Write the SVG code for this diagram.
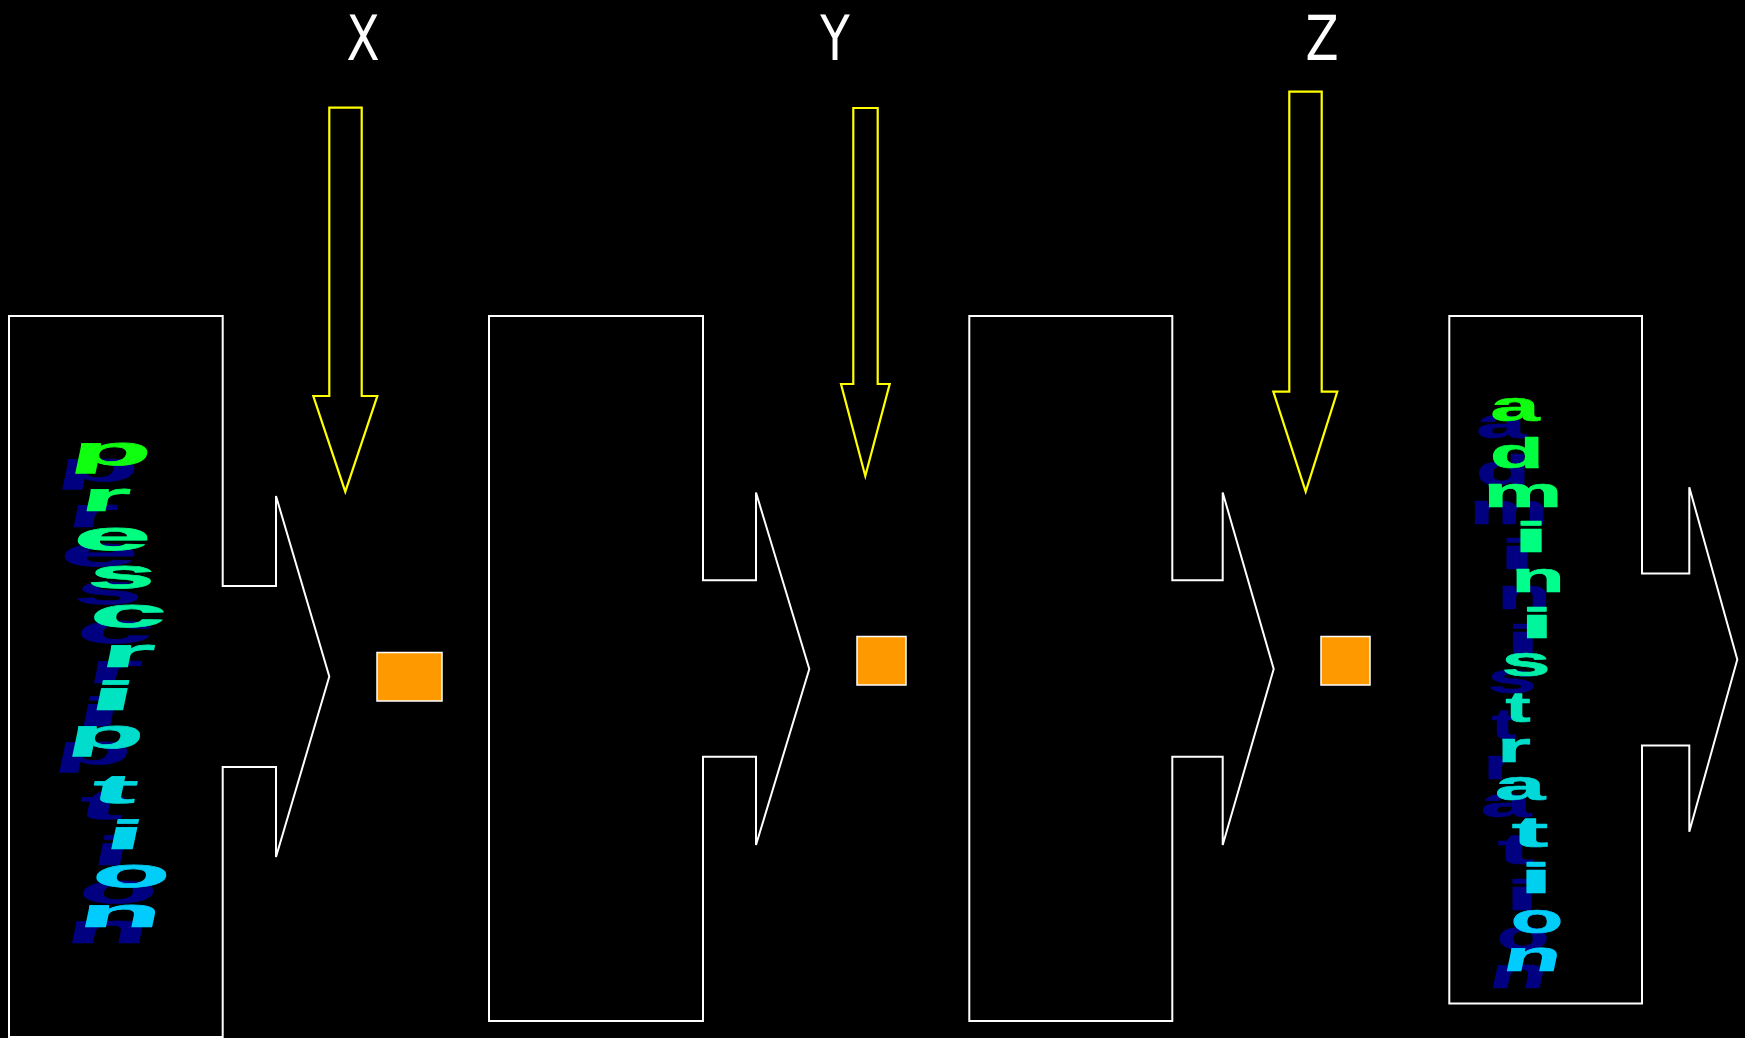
<svg xmlns="http://www.w3.org/2000/svg" width="1745" height="1038" viewBox="0 0 1745 1038">
<defs>
<style>
.stage{fill:none;stroke:#FFFFFF;stroke-width:2;stroke-linejoin:miter}
.block{fill:none;stroke:#FFFF00;stroke-width:2.2}
.box{fill:#FF9900;stroke:#FFFFFF;stroke-width:1.5}
.lbl{fill:#FFFFFF;font-family:"DejaVu Sans",sans-serif;font-size:62px;text-anchor:middle}
.wa text{font-family:"Liberation Sans",Arial,sans-serif;font-weight:bold;text-anchor:middle;fill:currentColor;stroke:currentColor;stroke-width:0.7;stroke-linejoin:round}
.p text{font-size:41px}
.a text{font-size:43px}
.sh{color:#000080}
</style>
</defs>
<rect x="0" y="0" width="1745" height="1038" fill="#000000"/>

<g id="labels">
<text class="lbl" transform="translate(363,60) scale(0.78,1)">X</text>
<text class="lbl" transform="translate(835,60) scale(0.78,1)">Y</text>
<text class="lbl" transform="translate(1322,60) scale(0.78,1)">Z</text>
</g>

<g id="stage1">
<path class="stage" d="M9,316 H222.7 V586 H276 V496 L329.3,676.5 L276,857 V767 H222.7 V1037 H9 Z"/>
<g id="prescription" class="wa p">
<g class="sh">
<text transform="translate(96,481) skewX(-12) scale(3.2,1)">p</text>
<text transform="translate(90,527) skewX(-12) scale(3.0,1)">r</text>
<text transform="translate(97,566) skewX(-12) scale(3.4,1)">e</text>
<text transform="translate(107,604) skewX(-12) scale(2.95,1)">s</text>
<text transform="translate(113,643) skewX(-12) scale(3.35,1)">c</text>
<text transform="translate(112,683) skewX(-12) scale(3.3,1)">r</text>
<text transform="translate(97,726) skewX(-12) scale(4.2,1)">i</text>
<text transform="translate(91,764) skewX(-12) scale(3.0,1)">p</text>
<text transform="translate(99,819) skewX(-12) scale(3.3,1)">t</text>
<text transform="translate(109,865) skewX(-12) scale(3.4,1)">i</text>
<text transform="translate(116,903) skewX(-12) scale(3.1,1)">o</text>
<text transform="translate(105,943) skewX(-12) scale(3.3,1)">n</text>
</g>
<g>
<text style="color:#10FF10" transform="translate(109,465) skewX(-12) scale(3.2,1)">p</text>
<text style="color:#00FF55" transform="translate(103,511) skewX(-12) scale(3.0,1)">r</text>
<text style="color:#00FF80" transform="translate(110,550) skewX(-12) scale(3.4,1)">e</text>
<text style="color:#00F890" transform="translate(120,588) skewX(-12) scale(2.95,1)">s</text>
<text style="color:#00F2A2" transform="translate(126,627) skewX(-12) scale(3.35,1)">c</text>
<text style="color:#00EAB5" transform="translate(125,667) skewX(-12) scale(3.3,1)">r</text>
<text style="color:#00E3C2" transform="translate(110,710) skewX(-12) scale(4.2,1)">i</text>
<text style="color:#00DDCC" transform="translate(104,748) skewX(-12) scale(3.0,1)">p</text>
<text style="color:#00D6DE" transform="translate(112,803) skewX(-12) scale(3.3,1)">t</text>
<text style="color:#00D2EB" transform="translate(122,849) skewX(-12) scale(3.4,1)">i</text>
<text style="color:#00CDF8" transform="translate(129,887) skewX(-12) scale(3.1,1)">o</text>
<text style="color:#00CCFF" transform="translate(118,927) skewX(-12) scale(3.3,1)">n</text>
</g>
</g>
</g>

<g id="box1"><rect class="box" x="377" y="652.5" width="65" height="48.5"/></g>

<g id="stage2">
<path class="stage" d="M489,316 H703 V580.3 H756 V492.5 L809.3,669 L756,845 V756.8 H703 V1021 H489 Z"/>
</g>

<g id="box2"><rect class="box" x="857" y="636.5" width="49" height="48.5"/></g>

<g id="stage3">
<path class="stage" d="M969.3,316 H1172.3 V580.3 H1222.7 V492.5 L1273.7,669 L1222.7,845 V756.8 H1172.3 V1021 H969.3 Z"/>
</g>

<g id="box3"><rect class="box" x="1321" y="636.5" width="49" height="48.5"/></g>

<g id="stage4">
<path class="stage" d="M1449.3,316 H1642 V573.6 H1689.3 V487.3 L1737.3,659.5 L1689.3,831.7 V745.4 H1642 V1003.4 H1449.3 Z"/>
<g id="administration" class="wa a">
<g class="sh">
<text transform="translate(1501,438) scale(2.05,1)">a</text>
<text transform="translate(1503,485) scale(2.05,1)">d</text>
<text transform="translate(1509,524) scale(2.06,1)">m</text>
<text transform="translate(1517,569) scale(3.2,1)">i</text>
<text transform="translate(1524,609) scale(2.04,1)">n</text>
<text transform="translate(1523,655) scale(3.0,1)">i</text>
<text transform="translate(1512,693) scale(2.05,1)">s</text>
<text transform="translate(1504,739) scale(1.75,1)">t</text>
<text transform="translate(1500,779) scale(2.0,1)">r</text>
<text transform="translate(1506,817) scale(2.1,1)">a</text>
<text transform="translate(1516,864) scale(2.55,1)">t</text>
<text transform="translate(1522,910) scale(2.9,1)">i</text>
<text transform="translate(1523,950) scale(2.0,1)">o</text>
<text transform="translate(1516,988) skewX(-12) scale(2.2,1)">n</text>
</g>
<g>
<text style="color:#10FF10" transform="translate(1515,421) scale(2.05,1)">a</text>
<text style="color:#00FF40" transform="translate(1517,468) scale(2.05,1)">d</text>
<text style="color:#00FF66" transform="translate(1523,507) scale(2.06,1)">m</text>
<text style="color:#00FF80" transform="translate(1531,552) scale(3.2,1)">i</text>
<text style="color:#00FF8C" transform="translate(1538,592) scale(2.04,1)">n</text>
<text style="color:#00F59C" transform="translate(1537,638) scale(3.0,1)">i</text>
<text style="color:#00EEA8" transform="translate(1526,676) scale(2.05,1)">s</text>
<text style="color:#00E5BC" transform="translate(1518,722) scale(1.75,1)">t</text>
<text style="color:#00DDCC" transform="translate(1514,762) scale(2.0,1)">r</text>
<text style="color:#00D9D8" transform="translate(1520,800) scale(2.1,1)">a</text>
<text style="color:#00D5E5" transform="translate(1530,847) scale(2.55,1)">t</text>
<text style="color:#00D0F0" transform="translate(1536,893) scale(2.9,1)">i</text>
<text style="color:#00CCFA" transform="translate(1537,933) scale(2.0,1)">o</text>
<text style="color:#00CCFF" transform="translate(1530,971) skewX(-12) scale(2.2,1)">n</text>
</g>
</g>
</g>

<g id="connectors">
<path class="block" d="M329.3,107.7 H361.7 V396 H377.3 L345.3,491.7 L313.3,396 H329.3 Z"/>
<path class="block" d="M853.3,108 H877.7 V384 H889.7 L865.3,476 L841,384 H853.3 Z"/>
<path class="block" d="M1289.3,91.7 H1321.7 V391.7 H1337.3 L1305.7,491.7 L1273.3,391.7 H1289.3 Z"/>
</g>
</svg>
